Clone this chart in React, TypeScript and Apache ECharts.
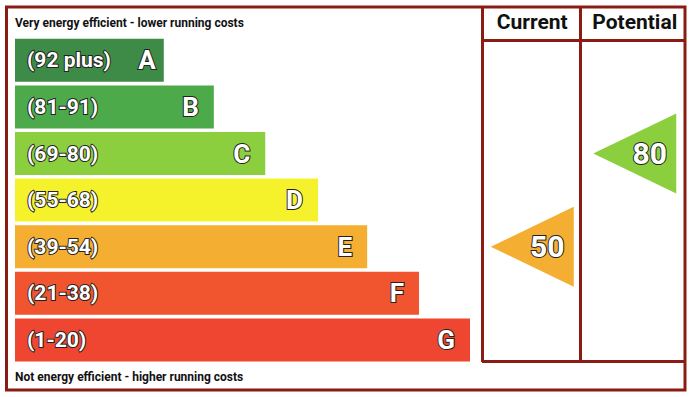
import React, { useEffect, useRef } from 'react';
import * as echarts from 'echarts';

const bands = ['A', 'B', 'C', 'D', 'E', 'F', 'G'];
const ranges = ['(92 plus)', '(81-91)', '(69-80)', '(55-68)', '(39-54)', '(21-38)', '(1-20)'];
const bandMins = [92, 81, 69, 55, 39, 21, 1];
const barLengths = [32.7, 43.7, 55, 66.6, 77.4, 88.8, 100];
const bandColors = ['#3d8b46', '#4caa4a', '#8ccf3e', '#f5f12b', '#f4ae31', '#f0552f', '#ee4631'];
const columns = ['Current', 'Potential'];
const ratings = [50, 80];
const topText = 'Very energy efficient - lower running costs';
const bottomText = 'Not energy efficient - higher running costs';

const BORDER = '#8a1c13';
const FONT = 'Roboto, "Noto Sans", sans-serif';

function bandIndex(r: number): number {
  for (let i = 0; i < bandMins.length; i++) if (r >= bandMins[i]) return i;
  return bandMins.length - 1;
}

export default function App() {
  const ref = useRef<HTMLDivElement>(null);
  useEffect(() => {
    if (!ref.current) return;
    const chart = echarts.init(ref.current, null, { renderer: 'svg' });
    const labelBase = {
      color: '#fff',
      fontFamily: FONT,
      fontWeight: 'bold' as const,
      textBorderColor: '#222',
      textBorderWidth: 2,
    };
    chart.setOption({
      animation: false,
      grid: [
        { left: 15, width: 455, top: 37, height: 326.2 },
        { left: 481, width: 205, top: 37, height: 326.2 },
      ],
      xAxis: [
        { type: 'value', min: 0, max: 100, show: false, gridIndex: 0 },
        {
          type: 'category',
          data: columns,
          gridIndex: 1,
          position: 'top',
          axisLine: { show: false },
          axisTick: { show: false },
          splitLine: { show: false },
          axisLabel: {
            interval: 0,
            color: '#111',
            fontFamily: FONT,
            fontWeight: 'bold',
            fontSize: 21,
            margin: 15,
            verticalAlign: 'middle',
            hideOverlap: false,
          },
        },
      ],
      yAxis: [
        { type: 'category', data: bands, inverse: true, show: false, gridIndex: 0 },
        { type: 'category', data: bands, inverse: true, show: false, gridIndex: 1 },
      ],
      series: [
        {
          type: 'bar',
          xAxisIndex: 0,
          yAxisIndex: 0,
          barWidth: 43,
          data: barLengths.map((v, i) => ({ value: v, itemStyle: { color: bandColors[i] } })),
          label: {
            show: true,
            position: 'insideLeft',
            distance: 12,
            fontSize: 21,
            ...labelBase,
            formatter: (p: any) => ranges[p.dataIndex],
          },
        },
        {
          type: 'bar',
          xAxisIndex: 0,
          yAxisIndex: 0,
          barWidth: 43,
          barGap: '-100%',
          z: 3,
          data: barLengths.map((v, i) => ({
            value: v,
            label: i === 0 ? { distance: 8 } : undefined,
          })),
          itemStyle: { color: 'rgba(0,0,0,0)' },
          label: {
            show: true,
            position: 'insideRight',
            distance: 15,
            fontSize: 26,
            ...labelBase,
            formatter: (p: any) => bands[p.dataIndex],
          },
        },
        {
          type: 'scatter',
          xAxisIndex: 1,
          yAxisIndex: 1,
          symbol: 'path://M0,50 L100,0 L100,100 Z',
          symbolSize: [83, 80],
          itemStyle: { opacity: 1 },
          data: ratings.map((r, i) => {
            const b = bandIndex(r);
            return { value: [columns[i], bands[b], r], itemStyle: { color: bandColors[b], opacity: 1 } };
          }),
          label: {
            show: true,
            position: 'inside',
            offset: [15, 0],
            fontSize: 30,
            ...labelBase,
            formatter: (p: any) => String(p.value[2]),
          },
        },
      ],
      graphic: [
        {
          type: 'rect',
          shape: { x: 6.5, y: 7, width: 678.5, height: 383 },
          style: { fill: 'none', stroke: BORDER, lineWidth: 3 },
          z: 10,
        },
        { type: 'line', shape: { x1: 482.5, y1: 7, x2: 482.5, y2: 362 }, style: { stroke: BORDER, lineWidth: 3 }, z: 10 },
        { type: 'line', shape: { x1: 580.5, y1: 7, x2: 580.5, y2: 362 }, style: { stroke: BORDER, lineWidth: 3 }, z: 10 },
        { type: 'line', shape: { x1: 482, y1: 40.5, x2: 685, y2: 40.5 }, style: { stroke: BORDER, lineWidth: 3 }, z: 10 },
        { type: 'line', shape: { x1: 482, y1: 361.5, x2: 685, y2: 361.5 }, style: { stroke: BORDER, lineWidth: 3 }, z: 10 },
        {
          type: 'text',
          x: 15,
          y: 23,
          style: {
            text: topText,
            fill: '#111',
            font: `bold 12px ${FONT}`,
            verticalAlign: 'middle',
          },
        },
        {
          type: 'text',
          x: 15,
          y: 377,
          style: {
            text: bottomText,
            fill: '#111',
            font: `bold 12px ${FONT}`,
            verticalAlign: 'middle',
          },
        },
      ],
    });
    return () => chart.dispose();
  }, []);
  return (
    <div
      ref={ref}
      style={{ position: 'fixed', left: 0, top: 0, width: 691, height: 397, background: '#fff' }}
    />
  );
}
